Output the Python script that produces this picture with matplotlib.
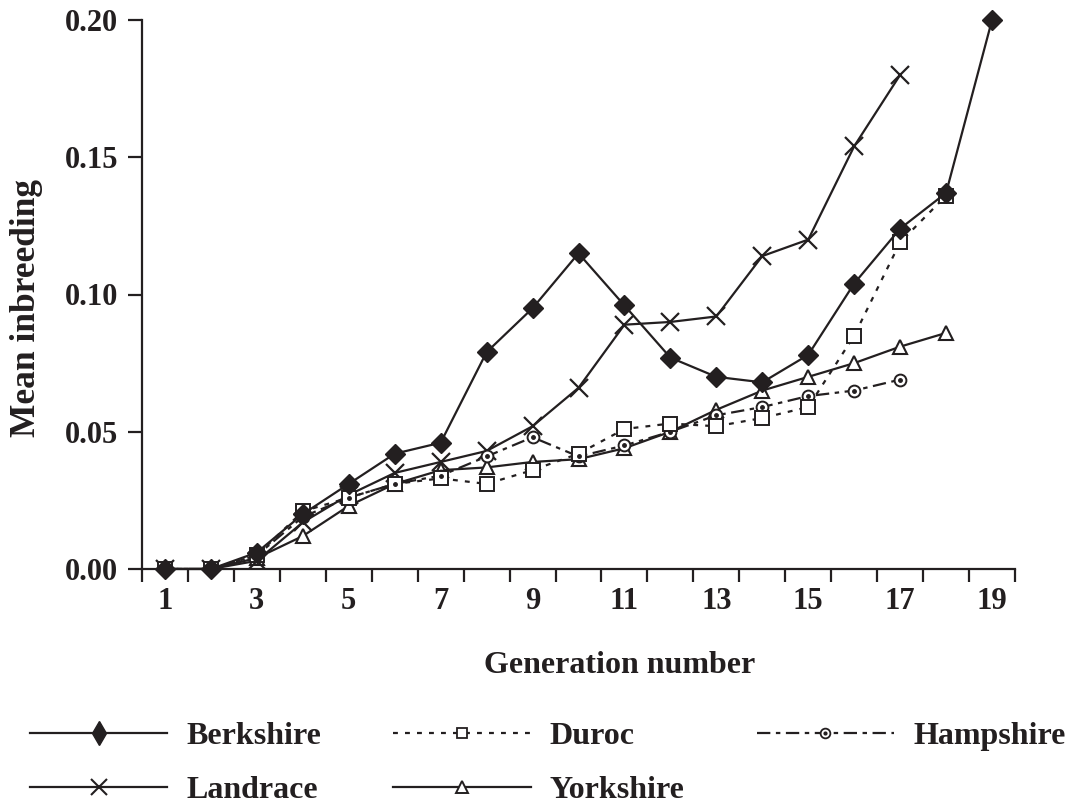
import matplotlib
matplotlib.use('Agg')
import matplotlib.pyplot as plt
from matplotlib.lines import Line2D
from matplotlib.ticker import FixedLocator, FixedFormatter, NullFormatter

# ---- data ----
gen_berkshire = list(range(1, 20))
berkshire = [0.000, 0.000, 0.006, 0.020, 0.031, 0.042, 0.046, 0.079, 0.095, 0.115,
             0.096, 0.077, 0.070, 0.068, 0.078, 0.104, 0.124, 0.137, 0.200]
gen_duroc = list(range(1, 19))
duroc = [0.000, 0.000, 0.005, 0.021, 0.026, 0.031, 0.033, 0.031, 0.036, 0.042,
         0.051, 0.053, 0.052, 0.055, 0.059, 0.085, 0.119, 0.136]
gen_hampshire = list(range(1, 18))
hampshire = [0.000, 0.000, 0.005, 0.019, 0.026, 0.031, 0.034, 0.041, 0.048, 0.041,
             0.045, 0.050, 0.056, 0.059, 0.063, 0.065, 0.069]
gen_landrace = list(range(1, 18))
landrace = [0.000, 0.000, 0.003, 0.017, 0.027, 0.035, 0.039, 0.043, 0.052, 0.066,
            0.089, 0.090, 0.092, 0.114, 0.120, 0.154, 0.180]
gen_yorkshire = list(range(1, 19))
yorkshire = [0.000, 0.000, 0.004, 0.012, 0.023, 0.031, 0.036, 0.037, 0.039, 0.040,
             0.044, 0.050, 0.058, 0.065, 0.070, 0.075, 0.081, 0.086]

x_tick_labels = ['1', '3', '5', '7', '9', '11', '13', '15', '17', '19']
y_ticks = [0.00, 0.05, 0.10, 0.15, 0.20]
y_tick_labels = ['0.00', '0.05', '0.10', '0.15', '0.20']

# ---- style ----
C = '#231f20'
FONT = 'Liberation Serif'
plt.rcParams['font.family'] = [FONT, 'DejaVu Serif']
plt.rcParams['font.weight'] = 'bold'

fig = plt.figure(figsize=(10.75, 8.06), dpi=100)
ax = fig.add_axes([142/1075, 1 - 569/806, (1015-142)/1075, (569-20)/806])

LW = 1.6
hamp_dash = (6, 2.5, 2, 2.5)
duroc_dash = (2.2, 3.2)

ax.plot(gen_yorkshire, yorkshire, color=C, lw=LW, marker='^', ms=10,
        mfc='white', mec=C, mew=1.5, zorder=3)
ax.plot(gen_landrace, landrace, color=C, lw=LW, marker='x', ms=13,
        mec=C, mew=1.6, zorder=3)
ax.plot(gen_hampshire, hampshire, color=C, lw=LW, dashes=hamp_dash, marker='o',
        ms=8.5, mfc='white', mec=C, mew=1.4, zorder=4)
ax.plot(gen_hampshire, hampshire, ls='none', marker='o', ms=2.5, mfc=C, mec=C,
        zorder=5)
ax.plot(gen_duroc, duroc, color=C, lw=LW, dashes=duroc_dash, marker='s', ms=9.5,
        mfc='white', mec=C, mew=1.4, zorder=4)
ax.plot(gen_berkshire, berkshire, color=C, lw=LW, marker='D', ms=10,
        mfc=C, mec=C, zorder=6, clip_on=False)

ax.set_xlim(0.5, 19.5)
ax.set_ylim(0.0, 0.20)

for s in ['top', 'right']:
    ax.spines[s].set_visible(False)
for s in ['left', 'bottom']:
    ax.spines[s].set_color(C)
    ax.spines[s].set_linewidth(1.6)

# x: ticks at boundaries, labels at odd generations
ax.xaxis.set_major_locator(FixedLocator([i + 0.5 for i in range(0, 20)]))
ax.xaxis.set_major_formatter(NullFormatter())
ax.xaxis.set_minor_locator(FixedLocator([int(t) for t in x_tick_labels]))
ax.xaxis.set_minor_formatter(FixedFormatter(x_tick_labels))
ax.tick_params(axis='x', which='major', direction='out', length=9, width=1.6,
               color=C)
ax.tick_params(axis='x', which='minor', length=0, pad=13, labelsize=22,
               labelcolor=C)
ax.set_yticks(y_ticks)
ax.set_yticklabels(y_tick_labels)
ax.tick_params(axis='y', direction='out', length=10, width=1.6, color=C,
               pad=7, labelsize=22, labelcolor=C)
for lab in ax.get_xticklabels(minor=True) + ax.get_yticklabels():
    lab.set_fontweight('bold')

ax.set_xlabel('Generation number', fontsize=23, fontweight='bold', color=C)
ax.xaxis.set_label_coords((620-142)/873, -(651-569)/549)
ax.set_ylabel('Mean inbreeding', fontsize=25.5, fontweight='bold', color=C)
ax.yaxis.set_label_coords((43-142)/873, (569-308)/549)

# ---- legend ----
h_berk = Line2D([], [], color=C, lw=LW, marker='d', ms=12, mfc=C, mec=C)
h_duroc = Line2D([], [], color=C, lw=LW, dashes=duroc_dash, marker='s', ms=7,
                 mfc='white', mec=C, mew=1.3)
h_hamp = (Line2D([], [], color=C, lw=LW, dashes=hamp_dash, marker='o', ms=7,
                 mfc='white', mec=C, mew=1.3),
          Line2D([], [], ls='none', marker='o', ms=2, mfc=C, mec=C))
h_land = Line2D([], [], color=C, lw=LW, marker='x', ms=11, mec=C, mew=1.5)
h_york = Line2D([], [], color=C, lw=LW, marker='^', ms=9, mfc='white',
                mec=C, mew=1.4)

leg = fig.legend([h_berk, h_land, h_duroc, h_york, h_hamp],
                 ['Berkshire', 'Landrace', 'Duroc', 'Yorkshire', 'Hampshire'],
                 ncol=3, loc='upper left', bbox_to_anchor=(30/1075, 1 - 722/806),
                 frameon=False, borderpad=0, borderaxespad=0, numpoints=1,
                 handlelength=4.3, handletextpad=0.6, columnspacing=2.25,
                 labelspacing=0.75, prop={'family': FONT, 'weight': 'bold',
                                          'size': 23})
for t in leg.get_texts():
    t.set_color(C)

fig.savefig('out.png', dpi=100)
